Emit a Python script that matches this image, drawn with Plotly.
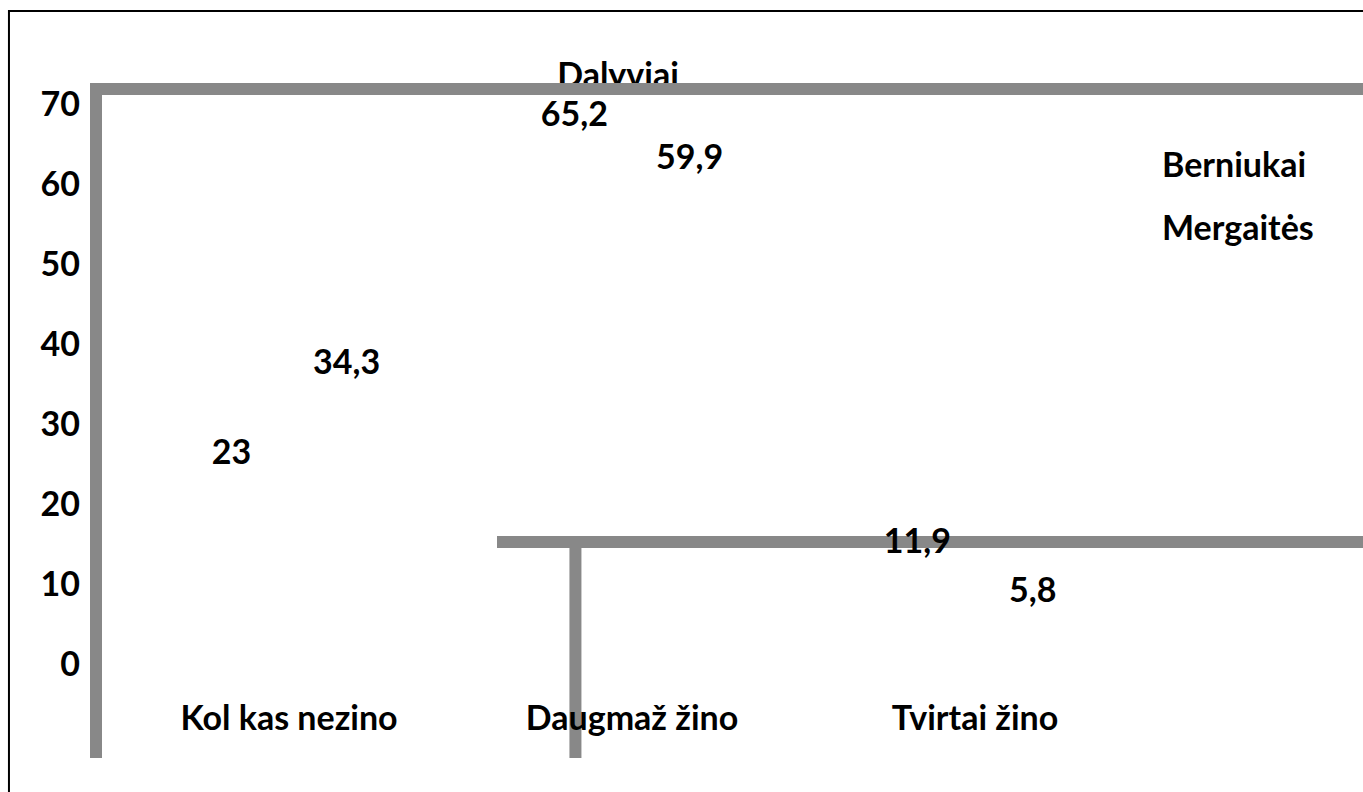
import plotly.graph_objects as go

categories = ["Kol kas nezino", "Daugmaž žino", "Tvirtai žino"]
berniukai = [23, 65.2, 11.9]
mergaites = [34.3, 59.9, 5.8]
berniukai_labels = ["23", "65,2", "11,9"]
mergaites_labels = ["34,3", "59,9", "5,8"]
y_ticks = [0, 10, 20, 30, 40, 50, 60, 70]
title_text = "Dalyviai"

FONT = dict(family="Lato", size=34, color="black", weight="bold")
GRAY = "#888888"
TRANSPARENT = "rgba(0,0,0,0)"

y_range = [-3.875, 76.75]  # value scale of the tick labels
label_shift = 0.75         # bar labels sit slightly higher than the tick scale
title_x = 0.412
title_y = 73.25

fig = go.Figure()
fig.add_trace(go.Bar(
    name="Berniukai", x=categories, y=berniukai, text=berniukai_labels,
    textposition="outside", textfont=FONT, cliponaxis=False,
    marker=dict(color=TRANSPARENT, line=dict(width=0)),
    legendgroup="b", hoverinfo="skip",
))
fig.add_trace(go.Bar(
    name="Mergaitės", x=categories, y=mergaites, text=mergaites_labels,
    textposition="outside", textfont=FONT, cliponaxis=False,
    marker=dict(color=TRANSPARENT, line=dict(width=0)),
    legendgroup="m", hoverinfo="skip",
))
# chart title drawn as text so the frame line passes over it
fig.add_trace(go.Scatter(
    x=[title_x], y=[title_y], mode="text", text=[title_text],
    textposition="middle center", textfont=FONT, cliponaxis=False,
    xaxis="x2", yaxis="y2", showlegend=False, hoverinfo="skip",
))

fig.update_layout(
    width=1363, height=792,
    margin=dict(l=96, r=0, t=50, b=97),
    paper_bgcolor="white", plot_bgcolor=TRANSPARENT,
    font=FONT,
    barmode="group", bargap=0.328, bargroupgap=0,
    showlegend=True,
    legend=dict(
        x=0.8098, y=0.8685, xanchor="left", yanchor="top",
        bgcolor=TRANSPARENT, font=FONT, tracegroupgap=16,
        itemclick=False, itemdoubleclick=False,
    ),
    xaxis=dict(
        type="category", categoryarray=categories,
        range=[-0.5627, 3.131], showgrid=False, zeroline=False,
        showline=False, ticks="", tickfont=FONT,
    ),
    yaxis=dict(
        range=[y_range[0] - label_shift, y_range[1] - label_shift],
        visible=False, showgrid=False, zeroline=False,
    ),
    xaxis2=dict(range=[0, 1], overlaying="x", visible=False),
    yaxis2=dict(
        range=y_range, overlaying="y", side="left", anchor="x",
        tickvals=y_ticks, showgrid=False, zeroline=False,
        showline=False, ticks="", tickfont=FONT, ticklabelstandoff=15,
    ),
    shapes=[
        # outer black frame
        dict(type="rect", xref="paper", yref="paper",
             x0=-0.0687, y0=-0.1628, x1=1.02, y1=1.0605,
             line=dict(color="black", width=2), fillcolor=TRANSPARENT, layer="below"),
        # lower gray lines
        dict(type="path", xref="paper", yref="paper",
             path="M 0.3165,0.2372 L 1.0134,0.2372 M 0.3784,0.2372 L 0.3784,-0.0977",
             line=dict(color=GRAY, width=12), layer="below"),
        # left + top gray frame line (above the title text)
        dict(type="path", xref="paper", yref="paper",
             path="M 0,-0.0977 L 0,0.9395 L 1.0134,0.9395",
             line=dict(color=GRAY, width=12), layer="above"),
    ],
)

fig.write_html(
    "out.html",
    config={"displayModeBar": False},
    post_script="document.body.style.margin='0';document.body.style.overflow='hidden';",
)
